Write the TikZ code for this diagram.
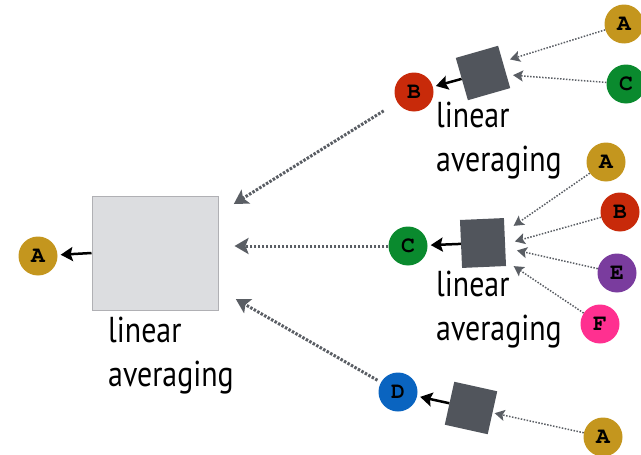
\documentclass[tikz,border=0pt]{standalone}
\usepackage{fontspec}
\usetikzlibrary{arrows.meta}
\newfontfamily\labelfont{PT Sans}[FakeStretch=0.83]
\newfontfamily\tagfont{TeX Gyre Cursor}
\definecolor{cgold}{HTML}{C4961E}
\definecolor{cred}{HTML}{C82A0A}
\definecolor{cgreen}{HTML}{0A8A2E}
\definecolor{cblue}{HTML}{0A64C0}
\definecolor{cpurple}{HTML}{7A3C9E}
\definecolor{cpink}{HTML}{FF3090}
\definecolor{unitgray}{HTML}{51555C}
\definecolor{feedgray}{HTML}{5A5E64}
\definecolor{boxfill}{HTML}{DCDDE0}
\definecolor{boxline}{HTML}{B0B0B4}
\begin{document}
\begin{tikzpicture}[x=1pt,y=-1pt,
  tag/.style={circle, fill=#1, minimum size=39pt, inner sep=0pt,
    font=\tagfont\bfseries\fontsize{23}{23}\selectfont},
  unit/.style={fill=unitgray, minimum width=44pt, minimum height=44pt, inner sep=0pt},
  caption/.style={font=\labelfont\fontsize{36}{44}\selectfont, align=left,
    anchor=north west, inner sep=0pt},
  feed/.style={draw=feedgray, line width=1.5pt, dash pattern=on 1.5pt off 1.5pt,
    -{Stealth[length=10pt,width=11pt,inset=2pt]}, shorten >=2pt},
  bigfeed/.style={draw=feedgray, line width=3pt, dash pattern=on 2.5pt off 1.5pt,
    -{Stealth[length=14pt,width=16pt,inset=3pt]}},
  result/.style={draw=black, line width=2.5pt, shorten >=3pt,
    -{Stealth[length=12pt,width=14pt,inset=2pt]}}
]
\useasboundingbox (0,0) rectangle (641,455);

% final combination on the left
\node[tag=cgold] (a0) at (38,256) {A};
\node[draw=boxline, line width=1pt, fill=boxfill, minimum width=126pt,
      minimum height=114pt, inner sep=0pt] (big) at (155,253) {};
\node[caption] (bigcap) at (108,317) {linear\\averaging};
\draw[result] (big.west) -- (a0);

% upper branch: B from A and C
\node[tag=cred] (b1) at (414,92) {B};
\node[unit, rotate=16] (ub) at (483,73) {};
\node[caption] (ubcap) at (436,102) {linear\\averaging};
\node[tag=cgold] (ba) at (624,24) {A};
\node[tag=cgreen] (bc) at (626,84) {C};
\draw[feed] (ba) -- (508,60);
\draw[feed] (bc) -- (511,75);
\draw[result] (ub) -- (b1);

% middle branch: C from A, B, E and F
\node[tag=cgreen] (c1) at (408,246) {C};
\node[unit, rotate=2.5, minimum height=48pt] (uc) at (483,243) {};
\node[caption] (uccap) at (436,271) {linear\\averaging};
\node[tag=cgold] (ca) at (606,162) {A};
\node[tag=cred] (cb) at (620,212) {B};
\node[tag=cpurple] (ce) at (617,273) {E};
\node[tag=cpink] (cf) at (600,324) {F};
\draw[feed] (ca) -- (512,227);
\draw[feed] (cb) -- (513,242);
\draw[feed] (ce) -- (515,250);
\draw[feed] (cf) -- (512,265);
\draw[result] (uc) -- (c1);

% lower branch: D from A
\node[tag=cblue] (d1) at (398,392) {D};
\node[unit, rotate=-12.5] (ud) at (471,408) {};
\node[tag=cgold] (da) at (603,437) {A};
\draw[feed] (da) -- (ud);
\draw[result] (ud) -- (d1);

% branch results feeding the final combination
\draw[bigfeed, shorten <=16pt, shorten >=18pt] (b1) -- (big);
\draw[bigfeed, shorten <=0pt, shorten >=16pt] (c1) -- (big.east |- c1);
\draw[bigfeed, shorten <=4pt, shorten >=20pt] (d1) -- (big);
\end{tikzpicture}
\end{document}
